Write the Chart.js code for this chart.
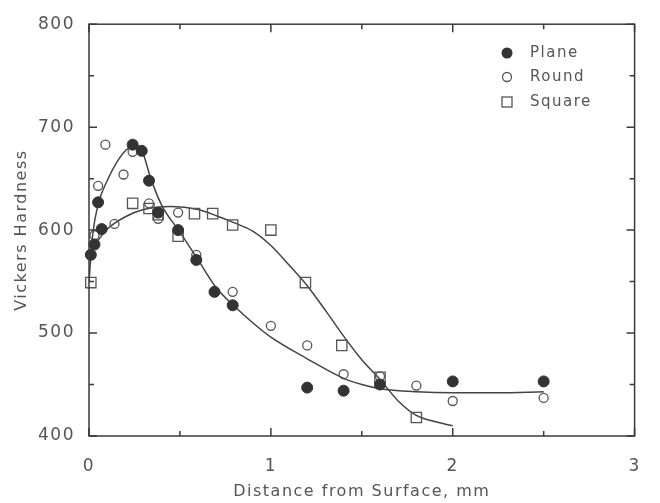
<!DOCTYPE html>
<html>
<head>
<meta charset="utf-8">
<script src="https://cdn.jsdelivr.net/npm/chart.js@4.4.1/dist/chart.umd.min.js"></script>
<style>
  html, body { margin: 0; padding: 0; background: #fff; }
  #wrap { width: 660px; height: 503px; }
</style>
</head>
<body>
<div id="wrap"><canvas id="chart" width="660" height="503"></canvas></div>
<script>
// measured points (distance mm, hardness HV)
const planeX = [0.01, 0.03, 0.05, 0.07, 0.24, 0.29, 0.33, 0.38, 0.49, 0.59, 0.69, 0.79, 1.2, 1.4, 1.6, 2.0, 2.5];
const planeY = [576, 586, 627, 601, 683, 677, 648, 617, 600, 571, 540, 527, 447, 444, 450, 453, 453];

const roundX = [0.03, 0.05, 0.09, 0.14, 0.19, 0.24, 0.33, 0.38, 0.49, 0.59, 0.79, 1.0, 1.2, 1.4, 1.6, 1.8, 2.0, 2.5];
const roundY = [595, 643, 683, 606, 654, 676, 626, 611, 617, 576, 540, 507, 488, 460, 458, 449, 434, 437];

const squareX = [0.01, 0.24, 0.33, 0.38, 0.49, 0.58, 0.68, 0.79, 1.0, 1.19, 1.39, 1.6, 1.8];
const squareY = [549, 626, 621, 615, 594, 616, 616, 605, 600, 549, 488, 457, 418];

// fitted curves
const fitAX = [0, 0.02, 0.05, 0.1, 0.15, 0.2, 0.25, 0.29, 0.34, 0.4, 0.5, 0.6, 0.7, 0.8, 0.9, 1.0, 1.2, 1.4, 1.5, 1.6, 1.8, 2.0, 2.25, 2.5];
const fitAY = [550, 595, 625, 648, 665, 677, 683, 678, 650, 624, 598, 571, 544, 526, 510, 496, 475, 456, 450, 446, 443, 442, 442, 443];

const fitBX = [0, 0.05, 0.1, 0.2, 0.3, 0.45, 0.6, 0.7, 0.8, 0.9, 1.0, 1.1, 1.2, 1.3, 1.4, 1.5, 1.6, 1.7, 1.8, 1.9, 2.0];
const fitBY = [578, 590, 601, 613, 620, 623, 620, 614, 607, 599, 585, 566, 546, 522, 497, 474, 455, 434, 420, 414, 410];

const legendNames = ["Plane", "Round", "Square"];

const ink = "#3a3a3a";
const textGrey = "#555";

function pts(xs, ys) {
  return xs.map((x, i) => ({ x: x, y: ys[i] }));
}

const frameTicks = {
  id: "frameTicks",
  beforeDraw(chart) {
    chart.ctx.letterSpacing = "1.5px";
  },
  afterDraw(chart) {
    const ctx = chart.ctx;
    const a = chart.chartArea;
    const xs = chart.scales.x;
    const ys = chart.scales.y;
    ctx.save();
    ctx.strokeStyle = ink;
    ctx.lineWidth = 1.5;
    ctx.strokeRect(a.left, a.top, a.right - a.left, a.bottom - a.top);
    ctx.beginPath();
    for (let v = 0; v <= 3.001; v += 0.5) {
      const px = xs.getPixelForValue(v);
      const len = Math.abs(v - Math.round(v)) < 0.01 ? 8 : 5;
      ctx.moveTo(px, a.bottom); ctx.lineTo(px, a.bottom - len);
      ctx.moveTo(px, a.top); ctx.lineTo(px, a.top + len);
    }
    for (let v = 400; v <= 800; v += 50) {
      const py = ys.getPixelForValue(v);
      const len = v % 100 === 0 ? 8 : 5;
      ctx.moveTo(a.left, py); ctx.lineTo(a.left + len, py);
      ctx.moveTo(a.right, py); ctx.lineTo(a.right - len, py);
    }
    ctx.stroke();

    // legend inside the plot
    const lx = 507, tx = 530, rows = [53, 77, 102];
    ctx.font = "15px 'DejaVu Sans'";
    ctx.fillStyle = textGrey;
    ctx.textBaseline = "middle";
    ctx.textAlign = "left";
    legendNames.forEach((n, i) => ctx.fillText(n, tx, rows[i]));
    ctx.fillStyle = "#333";
    ctx.beginPath(); ctx.arc(lx, rows[0], 5.5, 0, Math.PI * 2); ctx.fill();
    ctx.strokeStyle = "#555";
    ctx.lineWidth = 1.3;
    ctx.beginPath(); ctx.arc(lx, rows[1], 4.5, 0, Math.PI * 2); ctx.stroke();
    ctx.strokeRect(lx - 5, rows[2] - 5, 10, 10);
    ctx.restore();
  }
};

const lineStyle = { showLine: true, pointRadius: 0, borderColor: "#444", borderWidth: 1.5, cubicInterpolationMode: "monotone", fill: false };

new Chart(document.getElementById("chart"), {
  type: "scatter",
  data: {
    datasets: [
      { label: "Plane", data: pts(planeX, planeY), pointStyle: "circle", pointRadius: 5.5, backgroundColor: "#333", borderColor: "#333", borderWidth: 1, clip: false },
      { label: "Round", data: pts(roundX, roundY), pointStyle: "circle", pointRadius: 4.5, backgroundColor: "rgba(255,255,255,0)", borderColor: "#555", borderWidth: 1.3, clip: false },
      { label: "Square", data: pts(squareX, squareY), pointStyle: "rect", pointRadius: 7.3, backgroundColor: "rgba(255,255,255,0)", borderColor: "#555", borderWidth: 1.3, clip: false },
      Object.assign({ label: "fitA", data: pts(fitAX, fitAY) }, lineStyle),
      Object.assign({ label: "fitB", data: pts(fitBX, fitBY) }, lineStyle)
    ]
  },
  options: {
    responsive: false,
    animation: false,
    layout: { padding: { top: 13, right: 17, left: 0, bottom: 0 } },
    plugins: { legend: { display: false }, tooltip: { enabled: false } },
    scales: {
      x: {
        type: "linear", min: 0, max: 3,
        afterFit(s) { s.height = 67; },
        grid: { display: false, drawTicks: false },
        border: { display: false },
        ticks: { stepSize: 1, padding: 20, color: textGrey, font: { family: "DejaVu Sans", size: 17 } },
        title: { display: true, text: "Distance from Surface, mm", color: textGrey, padding: { bottom: 2 }, font: { family: "DejaVu Sans", size: 16 } }
      },
      y: {
        type: "linear", min: 400, max: 800,
        afterFit(s) { s.width = 89; },
        grid: { display: false, drawTicks: false },
        border: { display: false },
        ticks: { stepSize: 100, padding: 14, color: textGrey, font: { family: "DejaVu Sans", size: 17 } },
        title: { display: true, text: "Vickers Hardness", color: textGrey, padding: { top: 12 }, font: { family: "DejaVu Sans", size: 16 } }
      }
    }
  },
  plugins: [frameTicks]
});
</script>
</body>
</html>
